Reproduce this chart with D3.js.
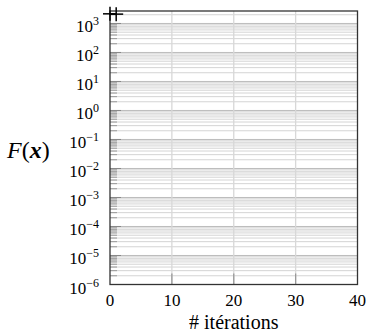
<!DOCTYPE html>
<html>
<head>
<meta charset="utf-8">
<script src="https://cdn.jsdelivr.net/npm/d3@7"></script>
<style>
  html, body { margin: 0; padding: 0; background: #fff; }
  svg { display: block; }
</style>
</head>
<body>
<svg id="chart" width="369" height="333"></svg>
<script>
// ---- data ----
const iterations = [0, 1];
const fValues = [2150, 2100];
const xTickValues = [0, 10, 20, 30, 40];
const yTickExponents = [-6, -5, -4, -3, -2, -1, 0, 1, 2, 3];
const xLabel = "# itérations";

// ---- layout ----
const FONT = '"Liberation Serif"';
const pLeft = 110, pRight = 357.5, pTop = 11, pBottom = 284.5;
const svg = d3.select("#chart");

const x = d3.scaleLinear().domain([0, 40]).range([pLeft, pRight]);
const y = d3.scaleLog().domain([1e-6, Math.pow(10, 3.43)]).range([pBottom, pTop]);

// minor grid values
const minorVals = [];
for (let k = -6; k <= 3; k++) {
  for (let m = 2; m <= 9; m++) {
    const v = m * Math.pow(10, k);
    if (v <= y.domain()[1]) minorVals.push(v);
  }
}
const majorVals = yTickExponents.map(e => Math.pow(10, e));

const grid = svg.append("g");
grid.selectAll("line.minor").data(minorVals).join("line")
  .attr("x1", pLeft).attr("x2", pRight)
  .attr("y1", d => y(d)).attr("y2", d => y(d))
  .attr("stroke", "#d4d4d4").attr("stroke-width", 1);
grid.selectAll("line.major").data(majorVals).join("line")
  .attr("x1", pLeft).attr("x2", pRight)
  .attr("y1", d => y(d)).attr("y2", d => y(d))
  .attr("stroke", "#bdbdbd").attr("stroke-width", 1);
grid.selectAll("line.vg").data(xTickValues.filter(v => v > 0 && v < 40)).join("line")
  .attr("x1", d => x(d)).attr("x2", d => x(d))
  .attr("y1", pTop).attr("y2", pBottom)
  .attr("stroke", "#d8d8d8").attr("stroke-width", 1.3);

// ticks (inward)
const ticks = svg.append("g");
ticks.selectAll("line.ymin").data(minorVals).join("line")
  .attr("x1", pLeft).attr("x2", pLeft + 7)
  .attr("y1", d => y(d)).attr("y2", d => y(d))
  .attr("stroke", "#999").attr("stroke-width", 1);
ticks.selectAll("line.ymaj").data(majorVals).join("line")
  .attr("x1", pLeft).attr("x2", pLeft + 11)
  .attr("y1", d => y(d)).attr("y2", d => y(d))
  .attr("stroke", "#888").attr("stroke-width", 1);
ticks.selectAll("line.xt").data(xTickValues.filter(v => v > 0 && v < 40)).join("line")
  .attr("x1", d => x(d)).attr("x2", d => x(d))
  .attr("y1", pBottom).attr("y2", pBottom - 11)
  .attr("stroke", "#999").attr("stroke-width", 1.3);

// frame
svg.append("rect")
  .attr("x", pLeft).attr("y", pTop)
  .attr("width", pRight - pLeft).attr("height", pBottom - pTop)
  .attr("fill", "none").attr("stroke", "#333").attr("stroke-width", 1.3);

// x tick labels
svg.append("g").selectAll("text").data(xTickValues).join("text")
  .attr("x", d => x(d)).attr("y", 306)
  .attr("text-anchor", "middle")
  .style("font-family", FONT).style("font-size", "17px")
  .text(d => d);

// y tick labels
const yl = svg.append("g").selectAll("text").data(yTickExponents).join("text")
  .attr("x", 99).attr("y", d => y(Math.pow(10, d)) + 9)
  .attr("text-anchor", "end")
  .style("font-family", FONT).style("font-size", "17px");
yl.append("tspan").text("10");
yl.append("tspan").attr("dy", -7).style("font-size", "12px")
  .text(d => d < 0 ? "\u2212" + Math.abs(d) : String(d));

// axis labels
svg.append("text")
  .attr("x", (pLeft + pRight) / 2).attr("y", 329)
  .attr("text-anchor", "middle")
  .style("font-family", FONT).style("font-size", "20px")
  .text(xLabel);

const fl = svg.append("text").attr("x", 7).attr("y", 158)
  .style("font-family", FONT).style("font-size", "24px");
fl.append("tspan").style("font-style", "italic").text("F");
fl.append("tspan").text("(");
fl.append("tspan").style("font-style", "italic").style("font-weight", "bold").text("x");
fl.append("tspan").text(")");

// data line + markers
const pts = iterations.map((it, i) => [it, fValues[i]]);
svg.append("path")
  .attr("d", d3.line().x(d => x(d[0])).y(d => y(d[1]))(pts))
  .attr("fill", "none").attr("stroke", "#000").attr("stroke-width", 1.3);
const mk = svg.append("g").selectAll("g").data(pts).join("g")
  .attr("transform", d => `translate(${x(d[0])},${y(d[1])})`);
mk.append("line").attr("x1", -7).attr("x2", 7).attr("y1", 0).attr("y2", 0)
  .attr("stroke", "#000").attr("stroke-width", 1.5);
mk.append("line").attr("x1", 0).attr("x2", 0).attr("y1", -7).attr("y2", 7)
  .attr("stroke", "#000").attr("stroke-width", 1.5);
</script>
</body>
</html>
